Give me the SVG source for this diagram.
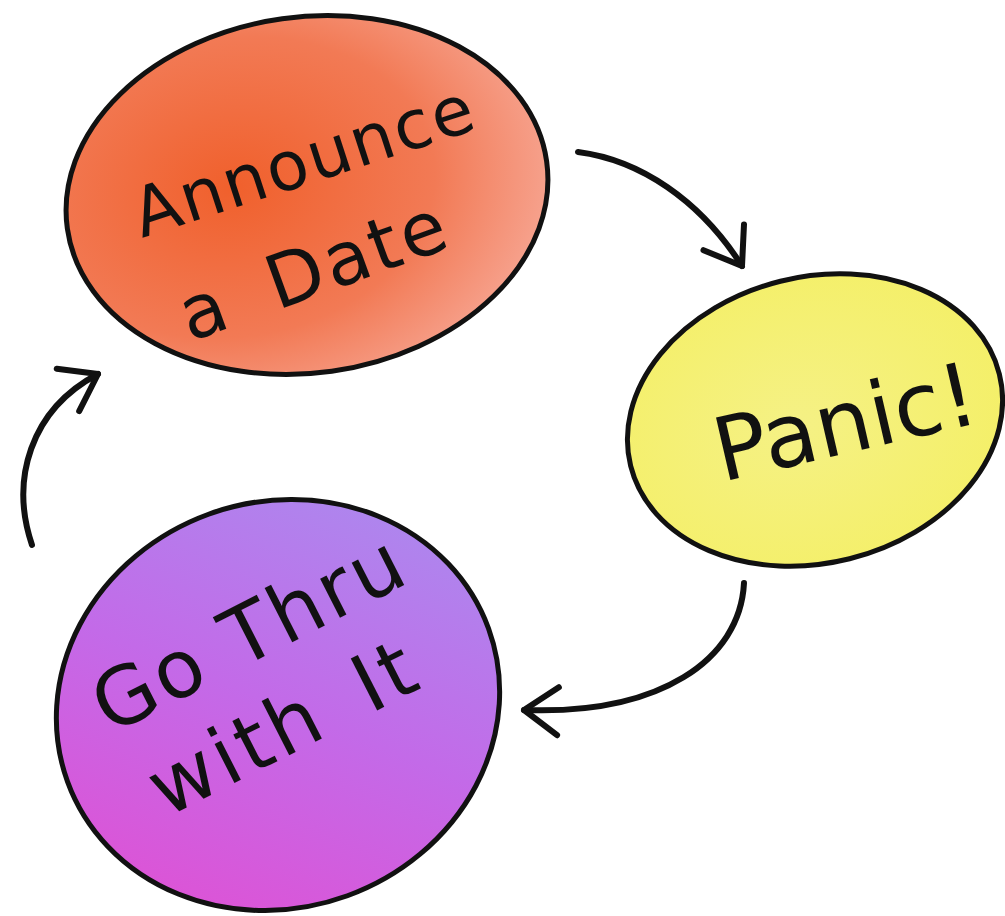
<svg xmlns="http://www.w3.org/2000/svg" width="1005" height="916" viewBox="0 0 1005 916">
<defs>
<radialGradient id="gOr" cx="0.35" cy="0.45" r="0.7">
<stop offset="0" stop-color="#f0602c"/><stop offset="0.6" stop-color="#f27a55"/><stop offset="1" stop-color="#f7a896"/>
</radialGradient>
<radialGradient id="gYe" cx="0.45" cy="0.5" r="0.7">
<stop offset="0" stop-color="#f5f185"/><stop offset="1" stop-color="#f4ef62"/>
</radialGradient>
<linearGradient id="gPu" x1="0" y1="1" x2="1" y2="0">
<stop offset="0" stop-color="#e54cd0"/><stop offset="0.5" stop-color="#c36ae8"/><stop offset="1" stop-color="#a690f0"/>
</linearGradient>
<marker id="ah" refX="0" refY="0" markerWidth="10" markerHeight="10" markerUnits="userSpaceOnUse" orient="auto" overflow="visible">
<path d="M-34,-24 L0,0 L-34,24" fill="none" stroke="#111" stroke-width="6" stroke-linecap="round" stroke-linejoin="round"/>
</marker>
</defs>
<style>
.node{stroke:#111;stroke-width:5}
.lbl{font-family:"DejaVu Sans","Liberation Sans",sans-serif;fill:#111}
.arr{fill:none;stroke:#111;stroke-width:6;stroke-linecap:round}
</style>
<g id="announce">
<ellipse class="node" cx="307" cy="195" rx="242" ry="178" transform="rotate(-8 307 195)" fill="url(#gOr)"/>
<text class="lbl" font-size="68" letter-spacing="2" transform="translate(142 238) rotate(-18)">Announce</text>
<text class="lbl" font-size="74" word-spacing="18" letter-spacing="3" transform="translate(190 342) rotate(-20)">a Date</text>
</g>
<g id="panic">
<ellipse class="node" cx="815" cy="420" rx="190" ry="143" transform="rotate(-14 815 420)" fill="url(#gYe)"/>
<text class="lbl" font-size="88" transform="translate(722 482) rotate(-13)">Panic!</text>
</g>
<g id="gothru">
<ellipse class="node" cx="278" cy="705" rx="224" ry="203" transform="rotate(-20 278 705)" fill="url(#gPu)"/>
<text class="lbl" font-size="80" letter-spacing="3" transform="translate(110 735) rotate(-27)">Go Thru</text>
<text class="lbl" font-size="80" letter-spacing="4" word-spacing="14" transform="translate(166 818) rotate(-27)">with It</text>
</g>
<g id="connectors">
<path class="arr" d="M578,152 C640,160 700,200 742,266" marker-end="url(#ah)"/>
<path class="arr" d="M744,583 C740,660 660,715 524,710" marker-end="url(#ah)"/>
<path class="arr" d="M32,545 C10,480 30,410 98,374" marker-end="url(#ah)"/>
</g>
</svg>
